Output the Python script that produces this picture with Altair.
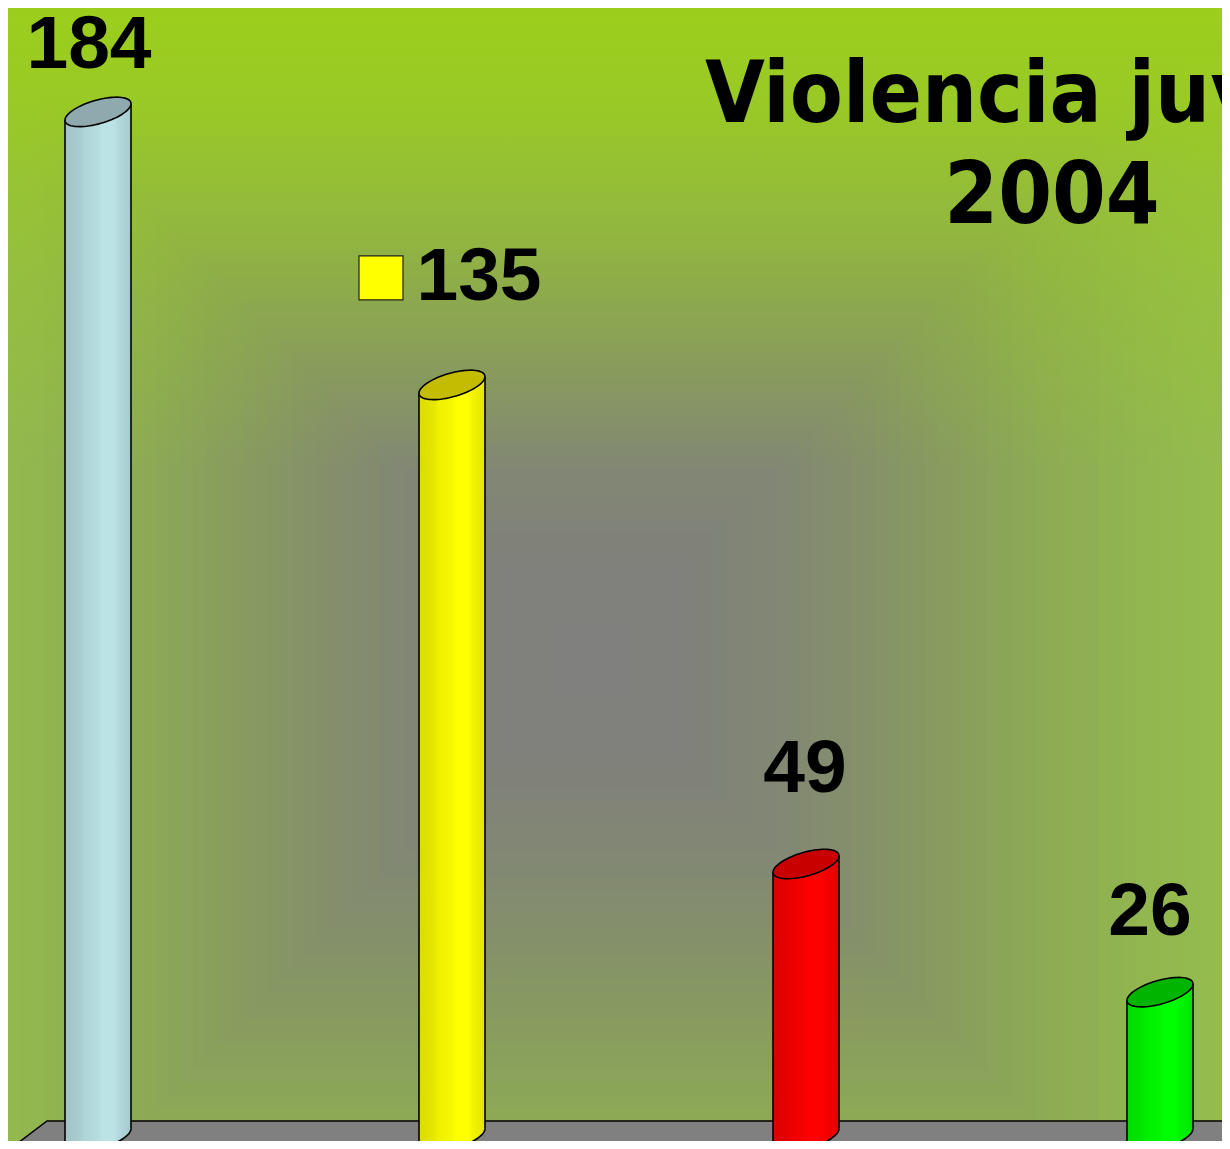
import altair as alt
import numpy as np
import pandas as pd

# ---------------- data ----------------
CATEGORIES = ["Serie 1", "Serie 2", "Serie 3", "Serie 4"]
VALUES = [184, 135, 49, 26]
VALUE_LABELS = ["184", "135", "49", "26"]
TITLE_LINE1 = "Violencia juvenil"
TITLE_LINE2 = "2004"

# ---------------- style ----------------
W, H = 1214, 1133
BODY = ["#bbe3e6", "#ffff00", "#ff0000", "#00ff00"]
CAP = ["#8eaaae", "#c4bc00", "#c80000", "#00b400"]
LABEL_DX = [-9, 27, -1, -10]
LABEL_DY = [-44, -85, -72, -57]
BAR_W = 66
LABEL_FONT = "Liberation Sans Narrow, Arial Narrow, Liberation Sans, Arial, sans-serif"
LABEL_SIZE = 75
TITLE_FONT = "DejaVu Sans Condensed, DejaVu Sans, Verdana, sans-serif"

df = pd.DataFrame({"cat": CATEGORIES, "value": VALUES, "label": VALUE_LABELS})

xs = alt.Scale(type="point", domain=CATEGORIES, range=[90, 1152], padding=0)
ys = alt.Scale(domain=[-0.72, 202.65], nice=False, zero=False)
X = alt.X("cat:N", scale=xs, axis=None)
Y = alt.Y("value:Q", scale=ys, axis=None)
Y0 = alt.Y("zero:Q", scale=ys, axis=None)


def shade(hexcol, f):
    h = hexcol.lstrip("#")
    r, g, b = (int(h[i:i + 2], 16) for i in (0, 2, 4))
    return "#%02x%02x%02x" % tuple(max(0, min(255, int(round(v * f)))) for v in (r, g, b))


SHADE_STOPS = [(0.0, 0.86), (0.22, 0.9), (0.3, 0.94), (0.5, 0.97), (0.56, 1.0),
               (0.74, 1.0), (0.8, 0.96), (0.92, 0.92), (1.0, 0.89)]


def body_grad(c):
    return alt.LinearGradient(
        gradient="linear", x1=0, x2=1, y1=0, y2=0,
        stops=[alt.GradientStop(color=shade(c, f), offset=o) for o, f in SHADE_STOPS])


# tilted ellipse (cylinder cross-section) in unit symbol coordinates
B_ELL, C_ELL = 0.37, 0.25


def ell(th):
    return (np.cos(th), B_ELL * np.sin(th) - C_ELL * np.cos(th))


def to_path(pts, close=True):
    s = "M " + " L ".join(f"{x:.4f} {y:.4f}" for x, y in pts)
    return s + (" Z" if close else "")


full = [ell(2 * np.pi * k / 72) for k in range(72)]
lower = [ell(np.pi - np.pi * k / 36) for k in range(37)]
CAP_PATH = to_path(full)
COLLAR_PATH = to_path(lower + [(1, 0.6), (-1, 0.6)])
BOTTOM_FILL_PATH = to_path(lower + [(1, -0.6), (-1, -0.6)])
BOTTOM_LINE_PATH = to_path(lower, close=False)
SYM = BAR_W * BAR_W
OFF = BAR_W / 2 * C_ELL

layers = []

# ---------------- background: rectangular path gradient ----------------
CX, CY, HX, HY = 582, 652, 620, 640
ramp_t = [0.0, 0.15, 0.3, 0.45, 0.6, 0.75, 0.9, 1.0, 1.12]
ramp_r = [128, 128, 130, 133, 137, 142, 146, 148, 150]
ramp_g = [128, 129, 135, 145, 158, 172, 182, 187, 192]
ramp_b = [128, 124, 117, 106, 94, 84, 80, 78, 72]
bands = []
for t in np.arange(1.12, 0.0, -0.02):
    col = "#%02x%02x%02x" % (int(np.interp(t, ramp_t, ramp_r)),
                             int(np.interp(t, ramp_t, ramp_g)),
                             int(np.interp(t, ramp_t, ramp_b)))
    bands.append({"x": CX - HX * t, "x2": CX + HX * t,
                  "y": CY - HY * t, "y2": CY + HY * t, "c": col})
bg = alt.Chart(pd.DataFrame(bands)).mark_rect().encode(
    x=alt.X("x:Q", scale=None, axis=None), x2="x2:Q",
    y=alt.Y("y:Q", scale=None, axis=None), y2="y2:Q",
    fill=alt.Fill("c:N", scale=None, legend=None))
layers.append(bg)

overlay = alt.Chart(pd.DataFrame({"k": [0]})).mark_rect(
    fill=alt.LinearGradient(
        gradient="linear", x1=0, x2=0, y1=0, y2=1,
        stops=[alt.GradientStop(color="rgba(155,206,28,1)", offset=0),
               alt.GradientStop(color="rgba(155,206,28,0.82)", offset=0.2),
               alt.GradientStop(color="rgba(155,206,28,0.5)", offset=0.4),
               alt.GradientStop(color="rgba(155,206,28,0.28)", offset=0.63),
               alt.GradientStop(color="rgba(155,206,28,0)", offset=1)])
).encode(x=alt.value(0), x2=alt.value(W), y=alt.value(0), y2=alt.value(460))
layers.append(overlay)

# ---------------- floor ----------------
floor = pd.DataFrame({"x": [2, 39, 1204, 1242],
                      "y": [1141, 1113, 1113, 1113],
                      "y2": [1141, 1141, 1141, 1113]})
layers.append(alt.Chart(floor).mark_area(
    fill="#808080", stroke="#000000", strokeWidth=1.5, opacity=1).encode(
    x=alt.X("x:Q", scale=None, axis=None),
    y=alt.Y("y:Q", scale=None, axis=None), y2="y2:Q"))

# ---------------- cylinders ----------------
for i, c in enumerate(CATEGORIES):
    base = alt.Chart(df).transform_filter(alt.datum.cat == c)
    base0 = base.transform_calculate(zero="0")
    g = body_grad(BODY[i])
    # bottom rim fill
    layers.append(base0.mark_point(shape=BOTTOM_FILL_PATH, size=SYM, filled=True,
                                   fill=g, strokeWidth=0, opacity=1).encode(x=X, y=Y0))
    # body
    layers.append(base.mark_bar(width=BAR_W, fill=g, strokeWidth=0, yOffset=10,
                                y2Offset=-OFF, opacity=1).encode(
        x=X, y=Y, y2=alt.datum(0)))
    layers.append(base.mark_point(shape=COLLAR_PATH, size=SYM, filled=True,
                                  fill=g, strokeWidth=0, opacity=1).encode(x=X, y=Y))
    # bottom outline
    layers.append(base0.mark_point(shape=BOTTOM_LINE_PATH, size=SYM, filled=False,
                                   stroke="#000000", strokeWidth=1.6, opacity=1).encode(x=X, y=Y0))
    # side edges
    layers.append(base.mark_rule(stroke="#000000", strokeWidth=1.6, xOffset=-BAR_W / 2,
                                 yOffset=OFF, y2Offset=OFF).encode(x=X, y=Y, y2=alt.datum(0)))
    layers.append(base.mark_rule(stroke="#000000", strokeWidth=1.6, xOffset=BAR_W / 2,
                                 yOffset=-OFF, y2Offset=-OFF).encode(x=X, y=Y, y2=alt.datum(0)))
    # top cap
    layers.append(base.mark_point(shape=CAP_PATH, size=SYM, filled=True, fill=CAP[i],
                                  stroke="#000000", strokeWidth=1.6, opacity=1).encode(x=X, y=Y))
    # value label
    layers.append(base.mark_text(dx=LABEL_DX[i], dy=LABEL_DY[i], fontSize=LABEL_SIZE,
                                 font=LABEL_FONT, fontWeight="bold", color="#000000",
                                 align="center", baseline="alphabetic").encode(
        x=X, y=Y, text="label:N"))

# legend key beside the "135" label
layers.append(alt.Chart(df).transform_filter(alt.datum.cat == CATEGORIES[1]).mark_point(
    shape="square", size=44 * 44, filled=True, fill=BODY[1], stroke="#222222",
    strokeWidth=1.2, opacity=1, xOffset=-71, yOffset=-107).encode(x=X, y=Y))

# ---------------- title ----------------
tdf = pd.DataFrame({"t1": [TITLE_LINE1], "t2": [TITLE_LINE2]})
layers.append(alt.Chart(tdf).mark_text(fontSize=86, font=TITLE_FONT, fontWeight="bold",
                                       color="#000000", align="left", baseline="alphabetic").encode(
    x=alt.value(697), y=alt.value(114), text="t1:N"))
layers.append(alt.Chart(tdf).mark_text(fontSize=86, font=TITLE_FONT, fontWeight="bold",
                                       color="#000000", align="center", baseline="alphabetic").encode(
    x=alt.value(1044), y=alt.value(215), text="t2:N"))

chart = alt.layer(*layers).resolve_scale(x="independent", y="independent").properties(
    width=W, height=H, padding=0, autosize=alt.AutoSizeParams(type="none"),
    background="#93b84f"
).configure_view(strokeWidth=0)

chart.save("out.html", embed_options={"renderer": "svg", "actions": False})
